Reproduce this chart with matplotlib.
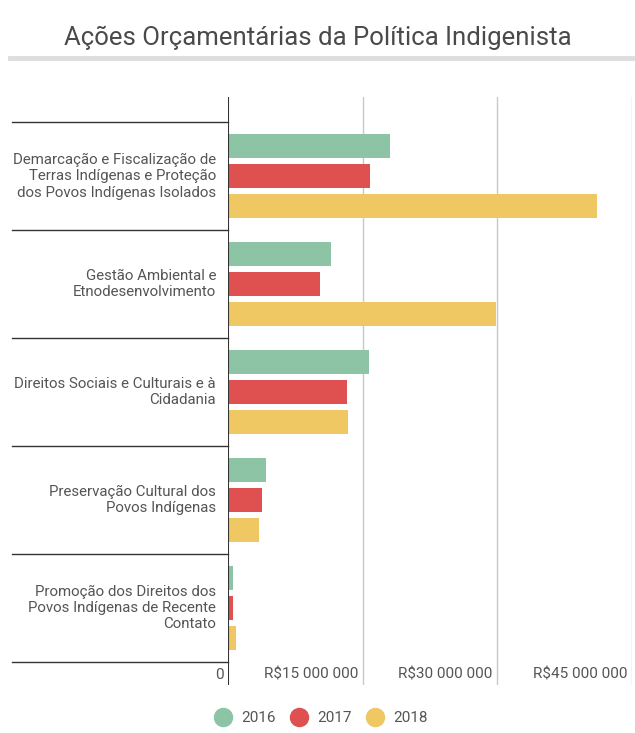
"""Ações orçamentárias da política indigenista - grouped horizontal bars"""

import matplotlib.pyplot as plt
from matplotlib.lines import Line2D
from matplotlib.transforms import blended_transform_factory
import numpy as np

plt.rcParams['font.family'] = ['Roboto', 'DejaVu Sans']

categories = [
    'Demarcação e Fiscalização de\nTerras Indígenas e Proteção\ndos Povos Indígenas Isolados',
    'Gestão Ambiental e\nEtnodesenvolvimento',
    'Direitos Sociais e Culturais e à\nCidadania',
    'Preservação Cultural dos\nPovos Indígenas',
    'Promoção dos Direitos dos\nPovos Indígenas de Recente\nContato',
]
years = ['2016', '2017', '2018']
v2016 = [18.1e6, 11.5e6, 15.7e6, 4.2e6, 0.6e6]
v2017 = [15.8e6, 10.2e6, 13.2e6, 3.8e6, 0.6e6]
v2018 = [41.1e6, 29.9e6, 13.4e6, 3.4e6, 0.9e6]
ticks = [0, 15e6, 30e6, 45e6]
tick_labels = ['0', 'R$15 000 000', 'R$30 000 000', 'R$45 000 000']

colors = ['#8cc4a5', '#df5151', '#efc763']
txt = '#555555'

fig = plt.figure(figsize=(6.35, 7.33), dpi=100)
fig.set_facecolor('w')
W, H = 635, 733
ax = fig.add_axes([228 / W, 1 - 685 / H, 404 / W, 588 / H])

y = np.arange(len(categories))
step = 30 / 108
bh = 23.5 / 108
for k, vals in enumerate([v2016, v2017, v2018]):
    ax.barh(y + (k - 1) * step, vals, height=bh, color=colors[k], zorder=3)

ax.set_xlim(0, 45e6)
ax.set_ylim(4.5 + 23 / 108, -0.5 - 25 / 108)
for s in ax.spines.values():
    s.set_visible(False)
ax.set_xticks([])
ax.set_yticks([])

# gridlines + zero axis
for t in ticks[1:]:
    ax.axvline(t, color='#c8c8c8', lw=1, zorder=1)
ax.axvline(0, color='#333333', lw=1.5, zorder=4)

# tick labels, right aligned just left of each line
for t, lab in zip(ticks, tick_labels):
    ax.text(t - 0.5e6, 4.5 + 13 / 108, lab, ha='right', va='center',
            fontsize=11, color=txt)

# category separators extending into label area
tr = blended_transform_factory(ax.transAxes, ax.transData)
for b in np.arange(len(categories) + 1) - 0.5:
    ax.plot([-216 / 404, 0], [b, b], color='#333333', lw=1,
            transform=tr, clip_on=False)

# category labels
for i, lab in enumerate(categories):
    ax.text(-12 / 404, i, lab, transform=tr, ha='right', va='center',
            fontsize=10.8, color=txt, linespacing=1.22)

# title and rule
fig.text(0.5, 1 - 38 / H, 'Ações Orçamentárias da Política Indigenista',
         ha='center', va='center', fontsize=18.5, color='#4a4a4a')
fig.add_artist(Line2D([10 / W, 1], [1 - 58 / H] * 2, color='#dddddd', lw=3.5))

handles = [Line2D([], [], ls='', marker='o', ms=13, color=c) for c in colors]
fig.legend(handles, years, loc='center', bbox_to_anchor=(0.505, 1 - 718 / H),
           ncol=3, frameon=False, fontsize=11, labelcolor=txt,
           handletextpad=0.6, columnspacing=0.9, handlelength=1.2)

fig.savefig('out.png', dpi=100)
